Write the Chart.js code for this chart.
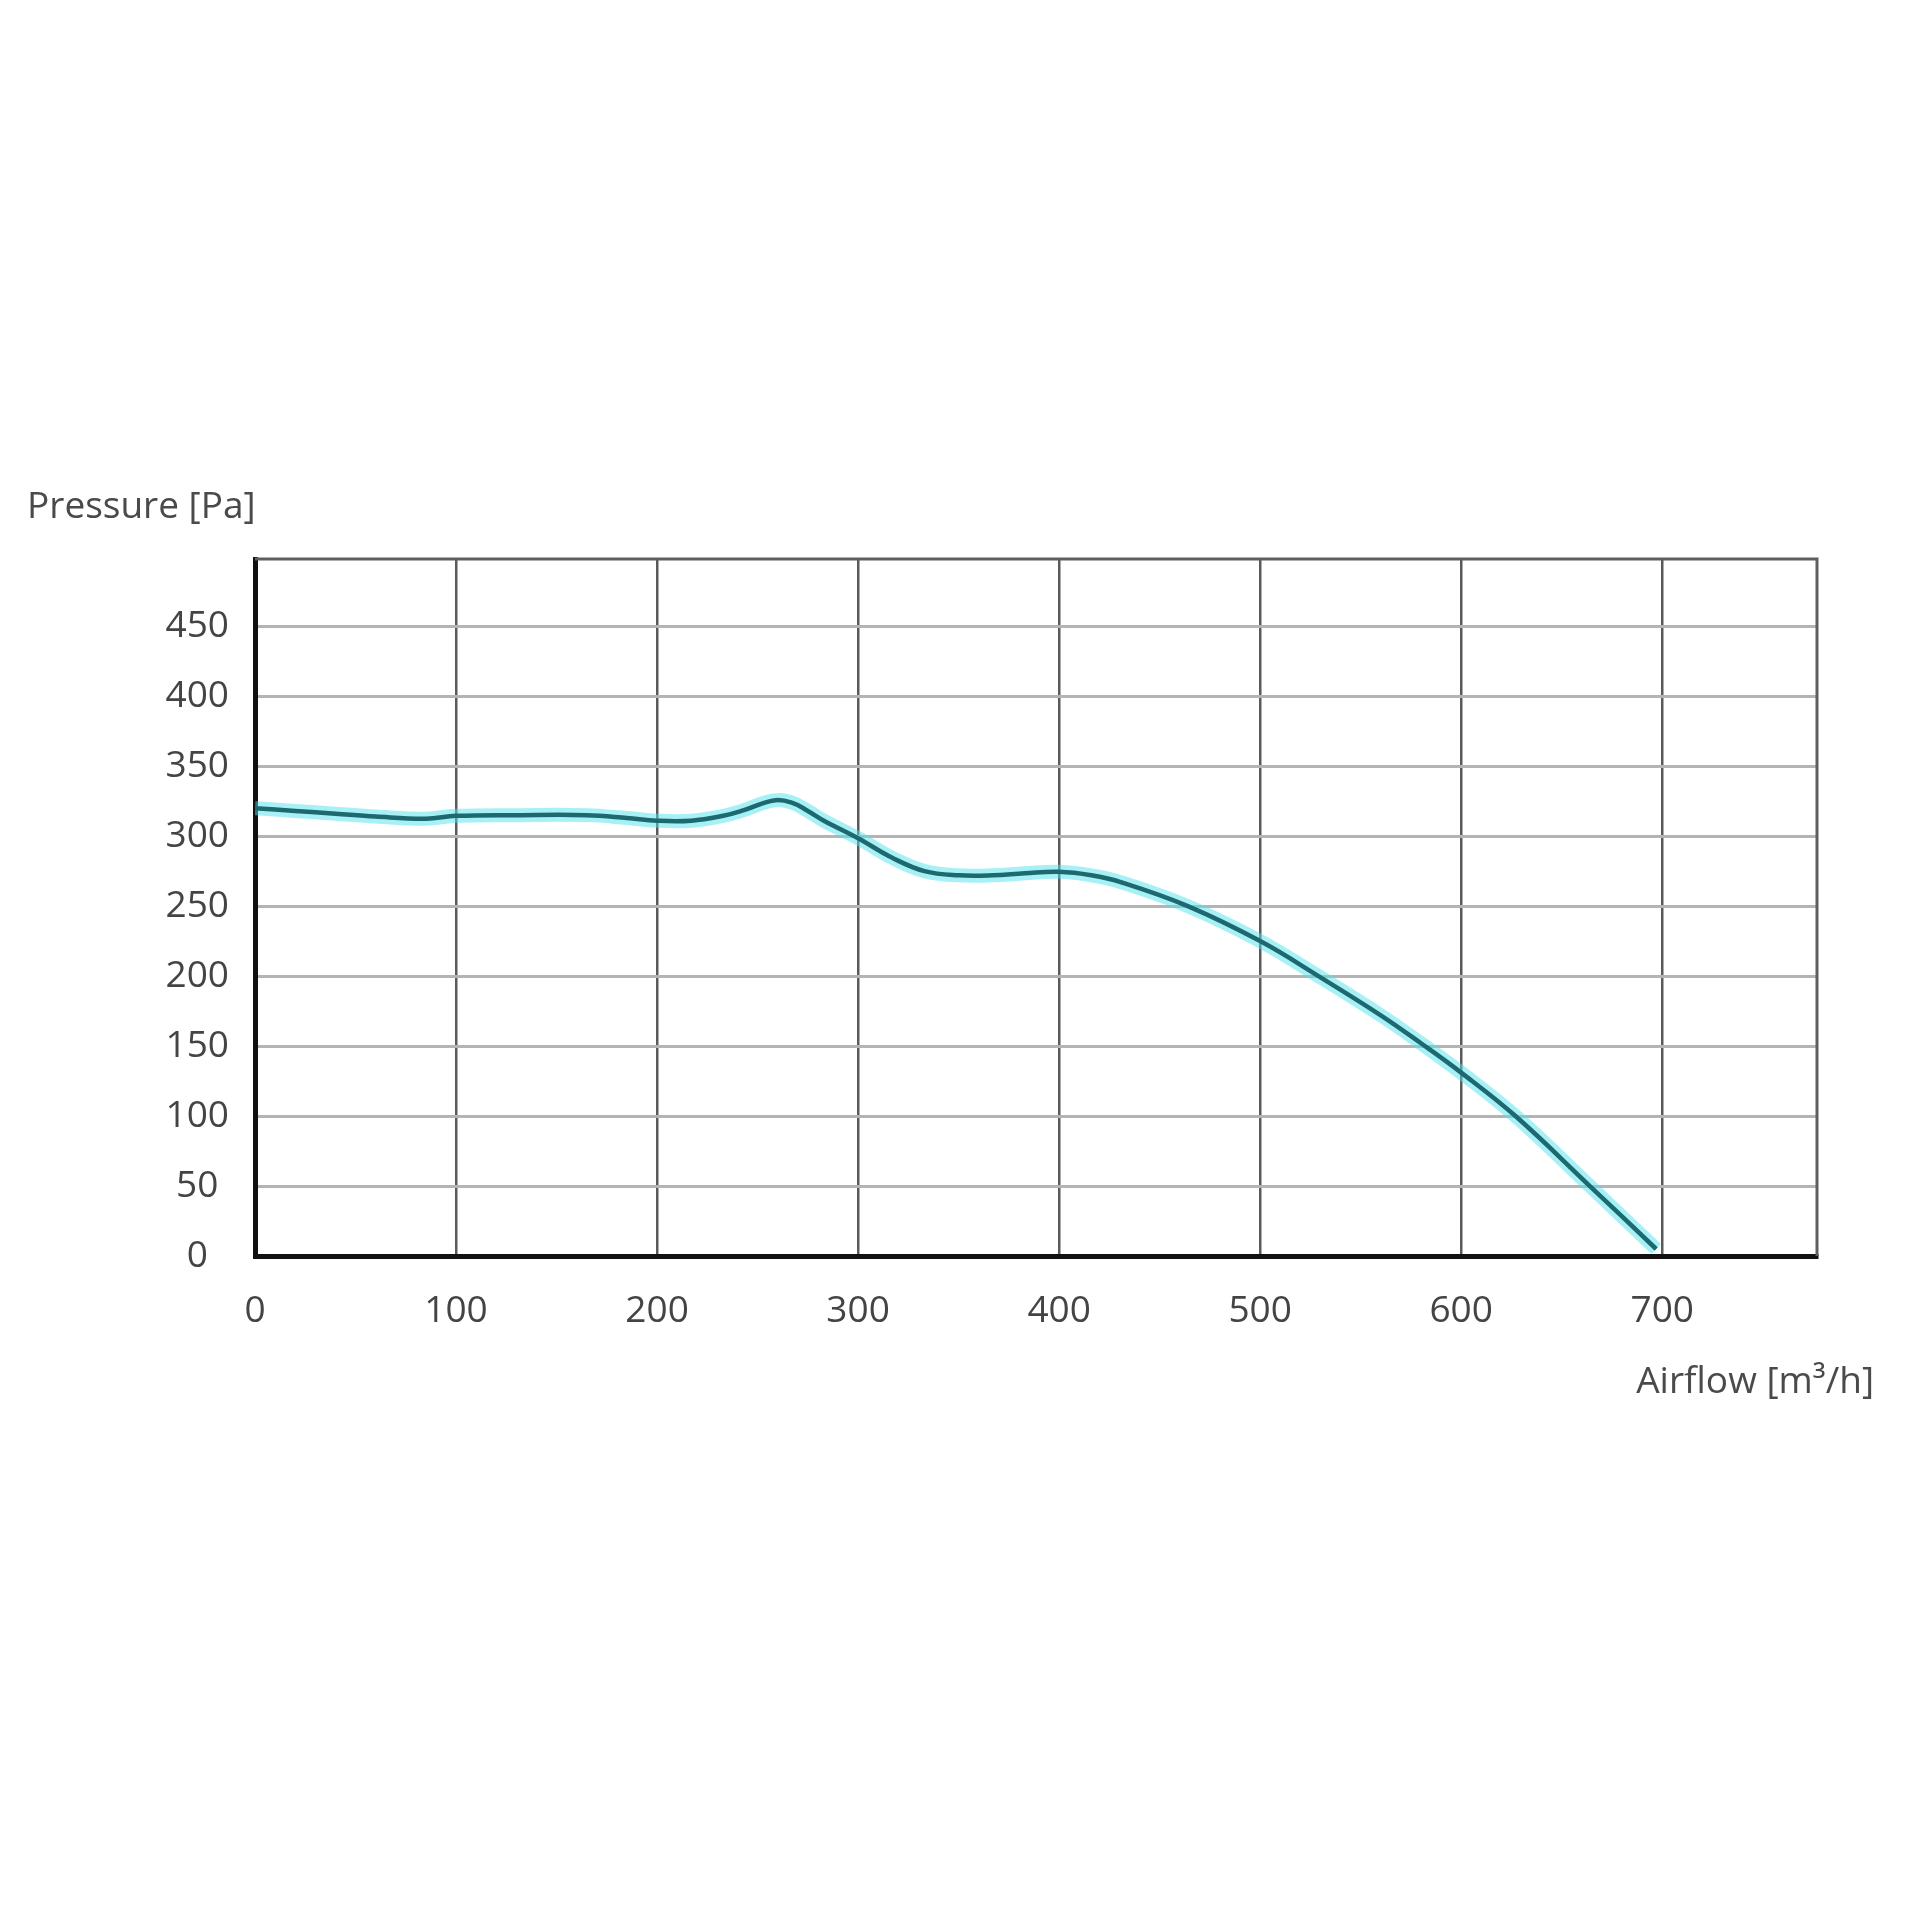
<!DOCTYPE html>
<html>
<head>
<meta charset="utf-8">
<script src="https://cdn.jsdelivr.net/npm/chart.js@4/dist/chart.umd.min.js"></script>
<style>
  html, body { margin: 0; padding: 0; background: #ffffff; }
  #wrap { width: 1920px; height: 1920px; position: relative; }
</style>
</head>
<body>
<div id="wrap"><canvas id="c" width="1920" height="1920"></canvas></div>
<script>
// ---- data ----
const airflow  = [0, 20, 40, 60, 85, 100, 130, 165, 185, 200, 217, 233, 242, 258, 267, 275, 283, 300, 317, 333, 350, 367, 383, 400, 416, 431, 464, 500, 529, 560, 580, 600, 627, 664, 697];
const pressure = [320, 318, 316, 314, 312.5, 314.5, 315, 315, 313, 311, 311, 314.5, 318, 325.5, 324, 318, 311, 298.5, 284.5, 275, 272, 272, 273.5, 274.5, 272, 267, 250, 225, 200, 172, 152, 131, 100, 50, 5];
const xTickValues = [0, 100, 200, 300, 400, 500, 600, 700];
const yTickValues = [0, 50, 100, 150, 200, 250, 300, 350, 400, 450];
const yTitle = "Pressure [Pa]";
const xTitle = "Airflow [m³/h]";

const points = airflow.map((x, i) => ({ x: x, y: pressure[i] }));
const FONT = "'Open Sans', 'Noto Sans', sans-serif";

const titlesPlugin = {
  id: 'titlesAndFrame',
  afterDraw(chart) {
    const { ctx, chartArea } = chart;
    ctx.save();
    // top and right frame
    ctx.strokeStyle = '#5e5e5e';
    ctx.lineWidth = 3;
    ctx.beginPath();
    ctx.moveTo(chartArea.left, chartArea.top);
    ctx.lineTo(chartArea.right, chartArea.top);
    ctx.lineTo(chartArea.right, chartArea.bottom);
    ctx.stroke();
    // axis titles
    ctx.fillStyle = '#4a4a4a';
    ctx.font = '37px ' + FONT;
    ctx.textBaseline = 'middle';
    ctx.textAlign = 'left';
    ctx.fillText(yTitle, chartArea.left - 228, chartArea.top - 52);
    ctx.textAlign = 'right';
    ctx.fillText(xTitle, chartArea.right + 57, chartArea.bottom + 126);
    ctx.restore();
  }
};

new Chart(document.getElementById('c'), {
  type: 'line',
  data: {
    datasets: [
      {
        label: 'Pressure',
        data: points,
        borderColor: '#1c6a70',
        borderWidth: 4.5,
        pointRadius: 0,
        fill: false,
        tension: 0.4,
        order: 0
      },
      {
        label: 'glow',
        data: points,
        borderColor: 'rgba(80, 225, 238, 0.5)',
        borderWidth: 14,
        pointRadius: 0,
        fill: false,
        tension: 0.4,
        order: 1
      }
    ]
  },
  options: {
    responsive: false,
    animation: false,
    events: [],
    layout: { padding: { left: 0, top: 559, right: 103, bottom: 544 } },
    plugins: { legend: { display: false }, tooltip: { enabled: false } },
    scales: {
      x: {
        type: 'linear',
        min: 0,
        max: 777,
        afterFit(scale) { scale.height = 120; },
        afterBuildTicks(scale) { scale.ticks = xTickValues.map(v => ({ value: v })); },
        ticks: {
          includeBounds: false,
          padding: 33,
          color: '#444444',
          font: { family: FONT, size: 37 },
          maxRotation: 0
        },
        grid: { color: '#5a5a5a', lineWidth: 2.5, drawTicks: false },
        border: { color: '#111111', width: 5 }
      },
      y: {
        type: 'linear',
        min: 0,
        max: 498,
        afterFit(scale) { scale.width = 255; },
        afterBuildTicks(scale) { scale.ticks = yTickValues.map(v => ({ value: v })); },
        ticks: {
          includeBounds: false,
          padding: 26,
          crossAlign: 'center',
          color: '#444444',
          font: { family: FONT, size: 37 }
        },
        grid: { color: '#b4b4b4', lineWidth: 3, drawTicks: false },
        border: { color: '#111111', width: 5 }
      }
    }
  },
  plugins: [titlesPlugin]
});
</script>
</body>
</html>
